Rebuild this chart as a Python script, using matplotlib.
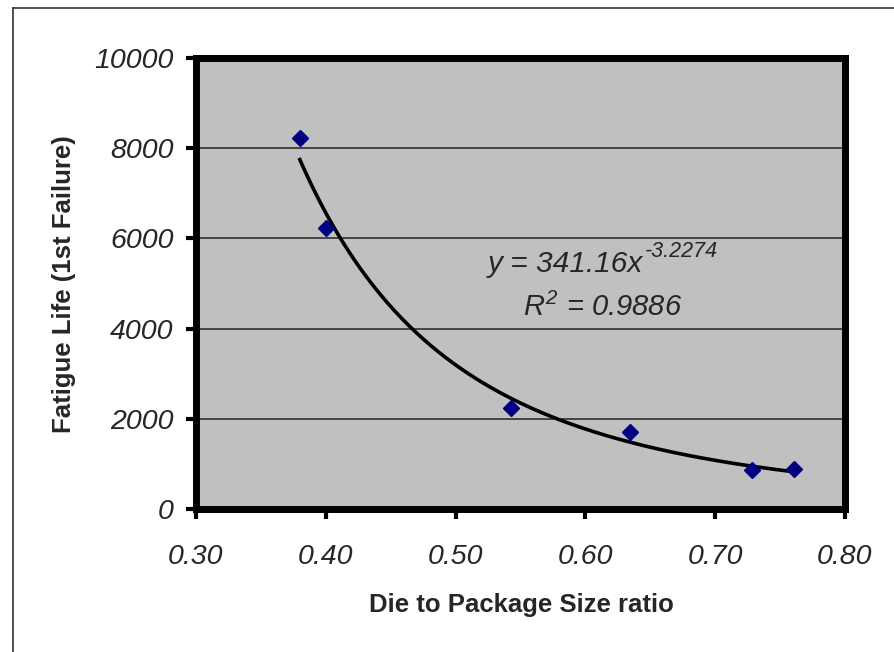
import numpy as np
import matplotlib
matplotlib.use("Agg")
import matplotlib.pyplot as plt
from matplotlib.lines import Line2D

# Data
die_ratio = [0.380, 0.400, 0.543, 0.634, 0.728, 0.761]
fatigue_life = [8230, 6240, 2250, 1710, 860, 880]

# Power trendline coefficients as printed on the chart
coef_a = 341.16
coef_b = -3.2274
r_squared = 0.9886

x_ticks = [0.30, 0.40, 0.50, 0.60, 0.70, 0.80]
y_ticks = [0, 2000, 4000, 6000, 8000, 10000]

font = "Liberation Sans"
plt.rcParams["mathtext.fontset"] = "custom"
plt.rcParams["mathtext.it"] = "Liberation Sans:italic"
plt.rcParams["mathtext.rm"] = "Liberation Sans:italic"

W, H = 894, 652
fig = plt.figure(figsize=(W / 100, H / 100), dpi=100)
fig.patch.set_facecolor("white")

ax = fig.add_axes([196 / W, 1 - 509 / H, (845 - 196) / W, (509 - 58) / H])
ax.set_facecolor("#c0c0c0")
ax.set_xlim(0.30, 0.80)
ax.set_ylim(0, 10000)
ax.set_xticks(x_ticks)
ax.set_yticks(y_ticks)
ax.set_xticklabels([f"{v:.2f}" for v in x_ticks])
ax.set_yticklabels([str(v) for v in y_ticks])

text_color = "#262626"
for lab in ax.get_xticklabels() + ax.get_yticklabels():
    lab.set_fontfamily(font)
    lab.set_fontstyle("italic")
    lab.set_fontsize(20.5)
    lab.set_color(text_color)

ax.tick_params(axis="both", direction="out", length=7.5, width=3, color="black")
ax.tick_params(axis="x", pad=18)
ax.tick_params(axis="y", pad=8.5)

for s in ax.spines.values():
    s.set_linewidth(5)
    s.set_color("black")

ax.yaxis.grid(True, color="#303030", linewidth=1.2)
ax.set_axisbelow(True)

# Trendline
xs = np.linspace(min(die_ratio), max(die_ratio), 200)
ax.plot(xs, coef_a * xs ** coef_b, color="black", linewidth=2.6, zorder=3)

# Data points
ax.plot(die_ratio, fatigue_life, linestyle="none", marker="D", markersize=8.5,
        color="#000080", zorder=4)

# Trendline equation
ax.text(0.6444, 5244, f"y = {coef_a:.2f}x", fontfamily=font,
        fontstyle="italic", fontsize=21.5, color=text_color, ha="right",
        va="baseline")
ax.text(0.6455, 5580, f"{coef_b}", fontfamily=font,
        fontstyle="italic", fontsize=15.5, color=text_color, ha="left",
        va="baseline")
ax.text(0.613, 4289, f"$R^{{2}}$ = {r_squared:.4f}", fontfamily=font,
        fontstyle="italic", fontsize=21, color=text_color, ha="center",
        va="baseline")

ax.set_xlabel("Die to Package Size ratio", fontfamily=font, fontweight="bold",
              fontsize=18.5, color=text_color)
ax.xaxis.set_label_coords(0.502, -0.186)
fig.text(64 / W, 1 - 284 / H, "Fatigue Life (1st Failure)", fontfamily=font,
         fontweight="bold", fontsize=18.5, color=text_color, rotation=90,
         ha="center", va="center")

# Outer frame (top and left edges visible)
fig.add_artist(Line2D([13 / W, 1], [1 - 8 / H, 1 - 8 / H],
                      transform=fig.transFigure, color="#333333", linewidth=1.2))
fig.add_artist(Line2D([13 / W, 13 / W], [0, 1 - 8 / H],
                      transform=fig.transFigure, color="#333333", linewidth=1.2))

fig.savefig("out.png", dpi=100, facecolor="white")
